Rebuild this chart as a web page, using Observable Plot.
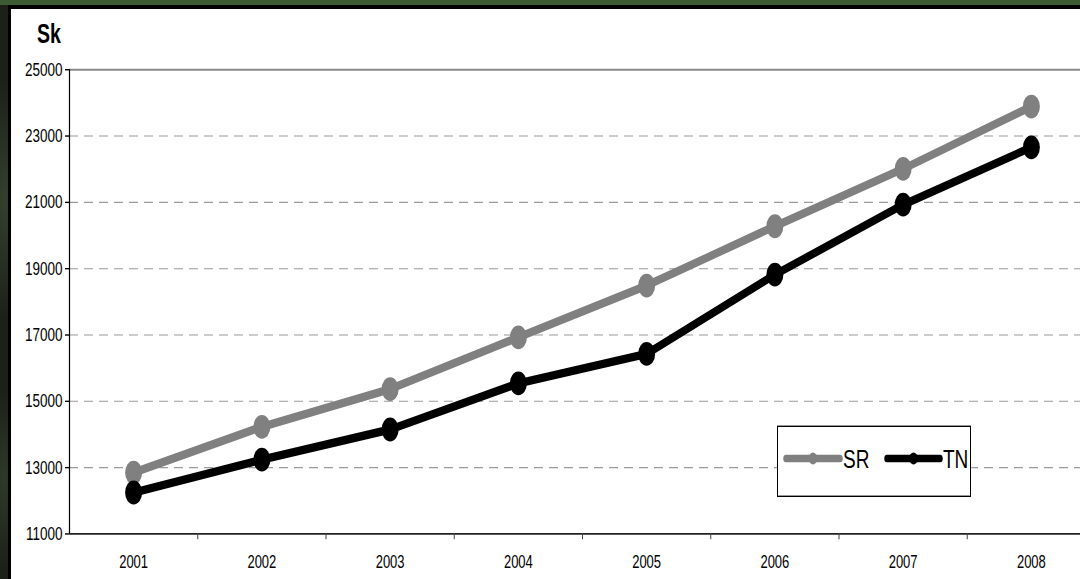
<!DOCTYPE html>
<html>
<head>
<meta charset="utf-8">
<script src="https://cdn.jsdelivr.net/npm/d3@7"></script>
<script src="https://cdn.jsdelivr.net/npm/@observablehq/plot@0.6"></script>
<style>
  html, body { margin: 0; padding: 0; width: 1080px; height: 579px; overflow: hidden; }
  body {
    background:
      radial-gradient(ellipse 30px 120px at 5px 200px, #34402e 0%, rgba(0,0,0,0) 100%),
      radial-gradient(ellipse 20px 90px at 4px 480px, #2f3a29 0%, rgba(0,0,0,0) 100%),
      linear-gradient(#3e5c33 0px, #3e5c33 5px, #1c2019 5px);
    font-family: "Liberation Sans", Arial, sans-serif;
    position: relative;
  }
  #panel {
    position: absolute; left: 8px; top: 5px; width: 1100px; height: 600px;
    background: #fff; border-left: 3px solid #000; border-top: 4px solid #000;
  }
  #wrap {
    position: absolute; left: 0; top: 0; width: 1100px; height: 414px;
    transform: scaleY(1.4); transform-origin: 0 0;
  }
  #wrap svg { position: absolute; left: 0; top: 0; overflow: visible; }
  #title {
    position: absolute; left: 37px; top: 14.5px; font-size: 19.6px; font-weight: bold;
    color: #000; line-height: 1;
  }
  #legend {
    position: absolute; left: 777px; top: 303.6px; width: 194px; height: 51.5px;
    border: 1px solid #000; background: #fff; box-sizing: border-box;
  }
  #legend svg { position: absolute; left: 0; top: 0; }
</style>
</head>
<body>
<div id="panel"></div>
<div id="wrap">
  <div id="title">Sk</div>
  <div id="chart"></div>
  <div id="legend"></div>
</div>
<script>
const years = [2001, 2002, 2003, 2004, 2005, 2006, 2007, 2008];
const sr = [12850, 14230, 15370, 16930, 18490, 20280, 22010, 23890];
const tn = [12250, 13240, 14150, 15540, 16430, 18820, 20930, 22660];
const seriesNames = ["SR", "TN"];
const seriesColors = ["#808080", "#000000"];
const yTicks = [11000, 13000, 15000, 17000, 19000, 21000, 23000, 25000];
const gridTicks = [13000, 15000, 17000, 19000, 21000, 23000];
const xBoundaries = [2001.5, 2002.5, 2003.5, 2004.5, 2005.5, 2006.5, 2007.5];

const data = [];
years.forEach((y, i) => {
  data.push({year: y, value: sr[i], series: "SR"});
  data.push({year: y, value: tn[i], series: "TN"});
});

const font = "Liberation Sans, Arial, sans-serif";

const chart = Plot.plot({
  width: 1100,
  height: 414,
  marginLeft: 69,
  marginRight: 5,
  marginTop: 49.3,
  marginBottom: 33.1,
  style: {fontFamily: font, background: "transparent", overflow: "visible"},
  x: {type: "linear", domain: [2000.5, 2008.5], label: null},
  y: {type: "linear", domain: [11000, 25000], label: null},
  color: {domain: seriesNames, range: seriesColors},
  marks: [
    Plot.ruleY(gridTicks, {stroke: "#9a9a9a", strokeWidth: 0.75, strokeDasharray: "9,6"}),
    Plot.ruleY([25000], {stroke: "#8a8a8a", strokeWidth: 1.5}),
    Plot.ruleY([11000], {stroke: "#222", strokeWidth: 1.3}),
    Plot.ruleX([2000.5], {stroke: "#000", strokeWidth: 1.2}),
    Plot.axisY({ticks: yTicks, tickSize: 4, tickPadding: 3, tickFormat: d => String(d),
      fontSize: 13.5, stroke: "#000", color: "#000", label: null}),
    Plot.axisX({ticks: xBoundaries, tickSize: 4.3, tickFormat: () => "", stroke: "#444", label: null}),
    Plot.axisX({ticks: years, tickSize: 0, tickPadding: 15, tickFormat: d => String(d),
      fontSize: 13, color: "#000", label: null}),
    Plot.line(data, {x: "year", y: "value", z: "series", stroke: "series", strokeWidth: 6,
      strokeLinejoin: "round", strokeLinecap: "round"}),
    Plot.dot(data, {x: "year", y: "value", fill: "series", r: 8.5, stroke: "none"})
  ]
});
document.getElementById("chart").appendChild(chart);

// legend
const lg = d3.select("#legend").append("svg").attr("width", 194).attr("height", 52);
const legendItems = [
  {name: seriesNames[0], color: seriesColors[0], x0: 8, x1: 62, text: 65},
  {name: seriesNames[1], color: seriesColors[1], x0: 109, x1: 162, text: 165}
];
legendItems.forEach(it => {
  lg.append("line").attr("x1", it.x0).attr("x2", it.x1).attr("y1", 22.5).attr("y2", 22.5)
    .attr("stroke", it.color).attr("stroke-width", 5.5).attr("stroke-linecap", "round");
  lg.append("circle").attr("cx", (it.x0 + it.x1) / 2).attr("cy", 22.5).attr("r", 4.2).attr("fill", it.color);
  lg.append("text").attr("x", it.text).attr("y", 22.5).attr("dy", "0.36em")
    .attr("font-size", 19).attr("font-family", font).attr("fill", "#000").text(it.name);
});
</script>
</body>
</html>
